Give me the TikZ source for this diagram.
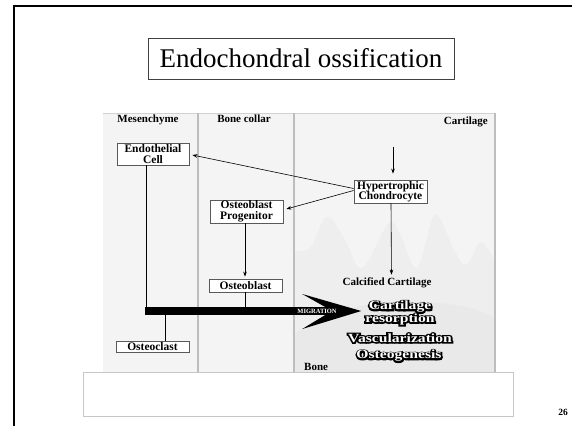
\documentclass[tikz,border=0pt]{standalone}
\usepackage{fontspec}
\usepackage{graphicx}
\setmainfont{Liberation Serif}
\newfontfamily\halofontB[FakeBold=22]{Liberation Serif Bold}
\newfontfamily\halofontW{Liberation Serif Bold}
\usetikzlibrary{arrows.meta,calc}
\definecolor{panelbg}{HTML}{F4F4F4}
\definecolor{cartbg}{HTML}{F4F4F4}
\definecolor{mount}{HTML}{EEEEEE}
\definecolor{bonebg}{HTML}{E9E9E9}
\definecolor{divider}{HTML}{BDBDBD}
\newcommand\halolabel[3]{%
  \node[halob] at (#2) {\scalebox{1.25}[1]{#3}};
  \node[halow] (#1) at (#2) {\scalebox{1.25}[1]{#3}};}
\begin{document}
\begin{tikzpicture}[x=1pt,y=-1pt,
  box/.style={draw=black!65, line width=0.8pt, fill=white, inner sep=0pt, align=center,
              font=\fontsize{11.5}{10.5}\selectfont\bfseries},
  lbl/.style={inner sep=0pt, font=\fontsize{11}{12}\selectfont\bfseries},
  arr/.style={-{Stealth[length=5pt,width=3.6pt]}, line width=0.6pt},
  conn/.style={line width=0.7pt},
  halob/.style={inner sep=0pt, text=black, font=\fontsize{12.5}{12.5}\halofontB},
  halow/.style={inner sep=0pt, text=white, font=\fontsize{12.5}{12.5}\halofontW},
]
\useasboundingbox (0,0) rectangle (572,426);
\fill[white] (0,0) rectangle (572,426);
% slide frame
\draw[line width=2.2pt] (14,426) -- (14,6) -- (572,6);
% title
\node[draw=black!75, line width=0.8pt, minimum width=306pt, minimum height=41pt, inner sep=0pt,
      font=\fontsize{27}{27}\selectfont] (title) at (301,58.5) {Endochondral ossification};
% panel background
\fill[panelbg] (103,113) rectangle (495,372);
\fill[cartbg] (294,113) rectangle (495,372);
\fill[mount] (294,372) -- (294,250) -- plot[smooth, tension=0.6] coordinates
  {(294,250) (310,248) (327,217) (345,240) (362,268) (388,224) (400,234) (417,268) (435,215) (453,248) (466,265) (481,242) (495,262)}
  -- (495,372) -- cycle;
\fill[bonebg] (294,372) -- (294,335) .. controls (320,312) and (360,302) .. (410,302)
  .. controls (450,302) and (480,308) .. (495,318) -- (495,372) -- cycle;
\draw[divider!70, line width=0.6pt] (103,113) -- (495,113);
\draw[divider, line width=1.5pt] (198,113) -- (198,372);
\draw[divider, line width=1.5pt] (294,113) -- (294,372);
\draw[divider, line width=1.2pt] (495,113) -- (495,372);
% bottom white box
\draw[black!22, fill=white, line width=0.6pt] (83,372) rectangle (513,416);
% column labels
\node[lbl] (mes) at (148,120) {Mesenchyme};
\node[lbl] (bc) at (244,119) {Bone collar};
\node[lbl, anchor=east] (cart) at (488,122) {Cartilage};
\node[lbl] (cal) at (387,283) {Calcified Cartilage};
\node[lbl, anchor=west] (bone) at (304,367) {Bone};
% boxes
\node[box, minimum width=72pt, minimum height=22pt] (endo) at (153,154) {Endothelial\\Cell};
\node[box, minimum width=73pt, minimum height=23pt] (hyp) at (390.5,191.5) {Hypertrophic\\Chondrocyte};
\node[box, minimum width=73pt, minimum height=23pt] (prog) at (246.5,211.5) {Osteoblast\\Progenitor};
\node[box, minimum width=73pt, minimum height=13pt] (ob) at (245.5,285.5) {Osteoblast};
\node[box, minimum width=73pt, minimum height=11pt] (oc) at (152.5,346.5) {Osteoclast};
% migration bar and head
\node[fill=black, minimum width=190pt, minimum height=8pt, inner sep=0pt] (bar) at (240,311) {};
\fill[black] ($(bar.east)+(-33,-17)$) -- ($(bar.east)+(26,0)$) -- ($(bar.east)+(-33,18)$)
  -- ($(bar.east)+(-10,4)$) -- ($(bar.east)+(-10,-4)$) -- cycle;
\node[text=white, inner sep=0pt, font=\fontsize{6.5}{6.5}\selectfont\bfseries] (mig) at (317,311.5) {MIGRATION};
% connectors
\coordinate (hyptop) at (393,147);
\draw[arr, shorten >=6pt] (hyptop) -- (hyptop |- hyp.north);
\draw[arr] ($(hyp.west)+(0,-3)$) -- ($(endo.east)+(3,1)$);
\draw[arr] ($(hyp.west)+(0,-1)$) -- ($(prog.east)+(3,-2.5)$);
\draw[arr, shorten >=3pt] ($(hyp.south)+(0.5,0)$) -- ($(cal.north)+(4.5,0)$);
\draw[arr, shorten >=2pt] ($(prog.south)+(-1.5,0)$) -- ($(ob.north)+(-0.5,0)$);
\draw[conn] (ob.south) -- (ob.south |- bar.north);
\coordinate (endl) at ($(endo.south)+(-7,0)$);
\draw[conn] (endl) -- (endl |- bar.north);
\coordinate (ocl) at ($(oc.north)+(12.5,0)$);
\draw[conn] (ocl |- bar.south) -- (ocl);
% outlined labels
\halolabel{cr1}{400,307}{Cartilage}
\halolabel{cr2}{400,319.5}{resorption}
\halolabel{vasc}{400,338}{Vascularization}
\halolabel{osteo}{399,356}{Osteogenesis}
% page number
\node[inner sep=0pt, font=\fontsize{9.5}{9.5}\selectfont\bfseries] (pg) at (563,412) {26};
\end{tikzpicture}
\end{document}
